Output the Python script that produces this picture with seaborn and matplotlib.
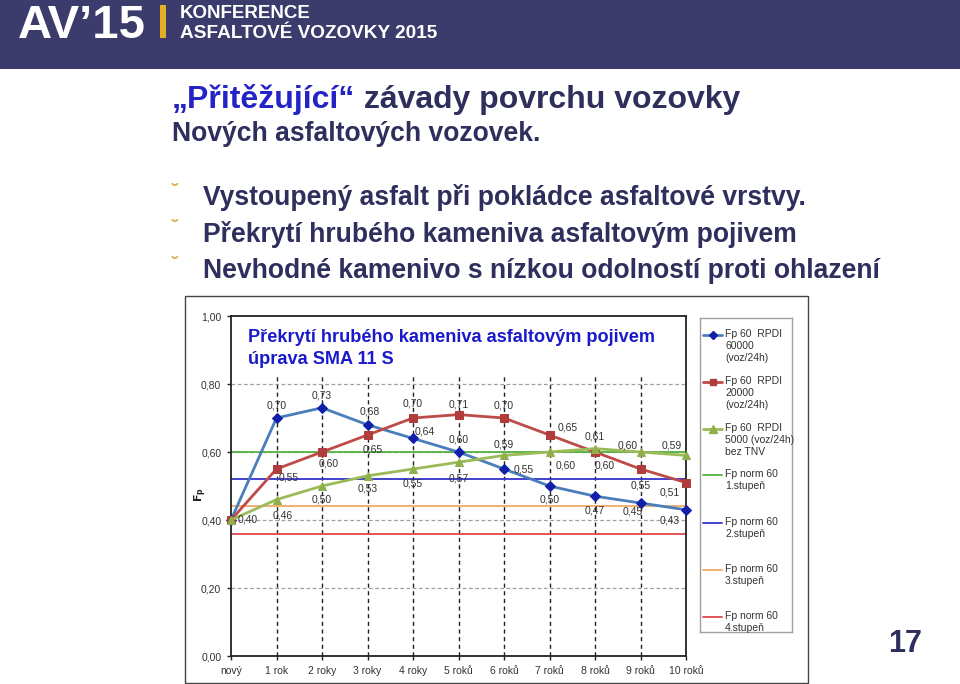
import matplotlib
matplotlib.use("Agg")
import numpy as np
import pandas as pd
import matplotlib.pyplot as plt
import seaborn as sns
from matplotlib.patches import Rectangle

# data
roky = ["nový", "1 rok", "2 roky", "3 roky", "4 roky", "5 roků",
        "6 roků", "7 roků", "8 roků", "9 roků", "10 roků"]
fp_60000 = [0.40, 0.70, 0.73, 0.68, 0.64, 0.60, 0.55, 0.50, 0.47, 0.45, 0.43]
fp_20000 = [0.40, 0.55, 0.60, 0.65, 0.70, 0.71, 0.70, 0.65, 0.60, 0.55, 0.51]
fp_5000 = [0.40, 0.46, 0.50, 0.53, 0.55, 0.57, 0.59, 0.60, 0.61, 0.60, 0.59]
norm_stupne = [0.60, 0.52, 0.44, 0.36]
y_ticks = [0.0, 0.2, 0.4, 0.6, 0.8, 1.0]

serie_labels = ["Fp 60  RPDI\n60000\n(voz/24h)",
                "Fp 60  RPDI\n20000\n(voz/24h)",
                "Fp 60  RPDI\n5000 (voz/24h)\nbez TNV"]
norm_labels = ["Fp norm 60\n1.stupeň", "Fp norm 60\n2.stupeň",
               "Fp norm 60\n3.stupeň", "Fp norm 60\n4.stupeň"]

# label offsets in pixels (dx, dy)
off_60000 = [(17, 0), (0, 12), (0, 12), (2, 13), (12, 7), (0, 12),
             (20, -1), (0, -13), (0, -14), (-8, -8), (-16, -11)]
off_20000 = [None, (12, -9), (7, -11), (5, -15), (0, 14), (0, 10),
             (0, 13), (18, 7), (10, -13), (0, -16), (-16, -10)]
off_5000 = [None, (6, -16), (0, -14), (0, -13), (0, -14), (0, -16),
            (0, 11), (16, -14), (0, 12), (-13, 7), (-14, 10)]

navy = "#2e2f5c"
serie_colors = ["#4a7ebb", "#be4b48", "#9bbb59"]
marker_colors = ["#1020a8", "#b03c3c", "#8fb04a"]
markers = ["D", "s", "^"]
msizes = [5, 5.5, 6]
norm_colors = ["#55b040", "#3333cc", "#f0a868", "#e04848"]

sns.set_theme(style="white")
plt.rcParams["font.family"] = ["Liberation Sans", "DejaVu Sans"]

W, H = 960, 684
fig = plt.figure(figsize=(9.6, 6.84), dpi=100)
fig.patch.set_facecolor("white")


def fx(px):
    return px / W


def fy(py):
    return 1 - py / H


# header band
fig.add_artist(Rectangle((0, fy(69)), 1, 69 / H, transform=fig.transFigure,
                         facecolor="#3b3c6b", edgecolor="none", zorder=-2))
fig.text(fx(18), fy(38), "AV’15", color="white", fontsize=34, fontweight="bold",
         va="baseline")
fig.add_artist(Rectangle((fx(160), fy(38)), 6 / W, 33 / H, transform=fig.transFigure,
                         facecolor="#e6ae22", edgecolor="none"))
fig.text(fx(180), fy(18), "KONFERENCE", color="white", fontsize=13.5,
         fontweight="bold", va="baseline")
fig.text(fx(180), fy(38), "ASFALTOVÉ VOZOVKY 2015", color="white", fontsize=13.7,
         fontweight="bold", va="baseline")

# slide title
t1 = fig.text(fx(172), fy(108), "„Přitěžující“", color="#2323c8", fontsize=23,
              fontweight="bold", va="baseline")
fig.canvas.draw()
bb = t1.get_window_extent()
fig.text(bb.x1 / fig.bbox.width, fy(108), " závady povrchu vozovky", color=navy,
         fontsize=23, fontweight="bold", va="baseline")
fig.text(fx(172), fy(141), "Nových asfaltových vozovek.", color=navy, fontsize=19.1,
         fontweight="bold", va="baseline")

bullets = ["Vystoupený asfalt při pokládce asfaltové vrstvy.",
           "Překrytí hrubého kameniva asfaltovým pojivem",
           "Nevhodné kamenivo s nízkou odolností proti ohlazení"]
for i, b in enumerate(bullets):
    yb = 205 + i * 36.5
    fig.text(fx(172), fy(yb - 8), "˘", color="#d8b040", fontsize=14,
             fontweight="bold", va="baseline")
    fig.text(fx(203), fy(yb), b, color=navy, fontsize=19.1, fontweight="bold",
             va="baseline")

fig.text(fx(905), fy(652), "17", color=navy, fontsize=22, fontweight="bold",
         ha="center", va="baseline")

# chart frame (behind the axes)
fig.add_artist(Rectangle((fx(185), fy(683)), 623 / W, 387 / H, transform=fig.transFigure,
                         facecolor="white", edgecolor="#444444", lw=1, zorder=-1))

ax = fig.add_axes([fx(231), fy(656), (686 - 231) / W, (656 - 316) / H])
ax.set_facecolor("white")

x = np.arange(len(roky))
df = pd.DataFrame({"x": x, "s60000": fp_60000, "s20000": fp_20000, "s5000": fp_5000})

# grid and dashed verticals
for yv in y_ticks[1:-1]:
    ax.axhline(yv, color="#a0a0a0", lw=0.9, ls=(0, (3, 2)), zorder=1)
for xv in x[1:-1]:
    ax.axvline(xv, ymin=0, ymax=0.83, color="#222222", lw=1.0, ls=(0, (3, 2.5)), zorder=1)

for yv, c in zip(norm_stupne, norm_colors):
    ax.axhline(yv, color=c, lw=1.3, zorder=2)

cols = ["s60000", "s20000", "s5000"]
offs = [off_60000, off_20000, off_5000]
for k, col in enumerate(cols):
    sns.lineplot(data=df, x="x", y=col, ax=ax, color=serie_colors[k], lw=2,
                 marker=markers[k], markersize=msizes[k],
                 markerfacecolor=marker_colors[k], markeredgecolor=marker_colors[k],
                 zorder=3 + k, clip_on=False)
    for xi, v, o in zip(x, df[col], offs[k]):
        if o is None:
            continue
        ax.annotate(f"{v:.2f}".replace(".", ","), (xi, v), xytext=o,
                    textcoords="offset pixels", ha="center", va="center",
                    fontsize=7.5, color="#333333", zorder=6)

ax.set_xlim(0, 10)
ax.set_ylim(0, 1)
ax.set_xticks(x)
ax.set_xticklabels(roky, fontsize=7.5, color="#333333")
ax.set_yticks(y_ticks)
ax.set_yticklabels([f"{v:.2f}".replace(".", ",") for v in y_ticks], fontsize=7.5,
                   color="#333333")
ax.tick_params(axis="both", length=3, width=1, color="#222222", pad=4, direction="out",
               left=True, bottom=True)
for s in ax.spines.values():
    s.set_color("#222222")
    s.set_linewidth(1.3)
ax.set_xlabel("")
ax.set_ylabel("")

ax.text(17 / (686 - 231), 0.905, "Překrytí hrubého kameniva asfaltovým pojivem\núprava SMA 11 S",
        transform=ax.transAxes, color="#1a1acc", fontsize=13.1, fontweight="bold",
        va="center", ha="left", linespacing=1.35)
fig.text(fx(201), fy(495), r"$\mathbf{F_p}$", rotation=90, fontsize=8,
         ha="center", va="center", color="#222222")

# legend box
lax = fig.add_axes([fx(700), fy(632), (792 - 700) / W, (632 - 318) / H])
lax.set_xlim(0, 92)
lax.set_ylim(314, 0)
lax.set_xticks([])
lax.set_yticks([])
for s in lax.spines.values():
    s.set_color("#a0a0a0")
    s.set_linewidth(1)
entry_y = [17, 64, 111, 157, 205, 252, 299]
for k in range(3):
    lax.plot([3, 22], [entry_y[k], entry_y[k]], color=serie_colors[k], lw=2)
    lax.plot([12.5], [entry_y[k]], marker=markers[k], color=marker_colors[k],
             markersize=msizes[k] - 0.5)
    lax.text(25, entry_y[k] - 6, serie_labels[k], fontsize=7.5, color="#333333",
             va="top", ha="left", linespacing=1.25)
for k in range(4):
    ey = entry_y[3 + k]
    lax.plot([3, 22], [ey, ey], color=norm_colors[k], lw=1.3)
    lax.text(25, ey - 6, norm_labels[k], fontsize=7.5, color="#333333",
             va="top", ha="left", linespacing=1.25)

fig.savefig("out.png", dpi=100)
